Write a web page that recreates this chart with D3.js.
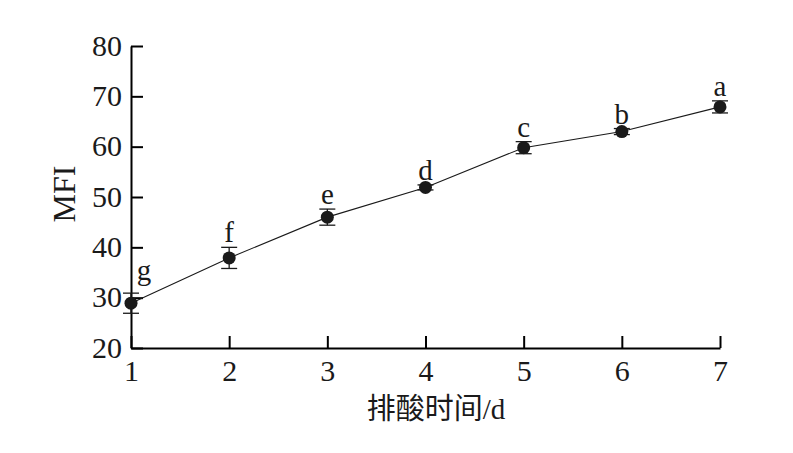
<!DOCTYPE html>
<html><head><meta charset="utf-8">
<script src="https://cdn.jsdelivr.net/npm/d3@7"></script>
<style>body{margin:0;background:#fff}</style>
</head><body><svg id="c" width="793" height="453"></svg>
<script>
const days = [1, 2, 3, 4, 5, 6, 7];
const mfi = [28.9, 37.9, 46.0, 51.9, 59.8, 63.0, 67.9];
const errs = [2.0, 2.1, 1.6, 0.5, 1.2, 0.6, 1.2];
const letters = ["g", "f", "e", "d", "c", "b", "a"];
const yTicks = [20, 30, 40, 50, 60, 70, 80];
const xTicks = [1, 2, 3, 4, 5, 6, 7];

const svg = d3.select("#c");
const x = d3.scaleLinear().domain([1, 7]).range([131, 720]);
const y = d3.scaleLinear().domain([20, 80]).range([348, 46]);
const serif = "'Liberation Serif','Times New Roman',serif";

const yAxis = svg.append("g").attr("transform", "translate(131,0)")
  .call(d3.axisLeft(y).tickValues(yTicks).tickFormat(d3.format("d")).tickSizeInner(-12).tickSizeOuter(0).tickPadding(9));
const xAxis = svg.append("g").attr("transform", "translate(0,348)")
  .call(d3.axisBottom(x).tickValues(xTicks).tickFormat(d3.format("d")).tickSizeInner(-12).tickSizeOuter(0).tickPadding(0));
[yAxis, xAxis].forEach(a => {
  a.select(".domain").attr("stroke", "#000").attr("stroke-width", 2);
  a.selectAll(".tick line").attr("stroke", "#000").attr("stroke-width", 2);
  a.selectAll(".tick text").attr("fill", "#1a1a1a").style("font-family", serif).style("font-size", "30px");
});
xAxis.selectAll(".tick text").attr("y", 33).attr("dy", null);
yAxis.selectAll(".tick text").attr("dy", "0.3em");

const pts = days.map((d, i) => ({d, v: mfi[i], e: errs[i], l: letters[i]}));

svg.append("path").datum(pts)
  .attr("fill", "none").attr("stroke", "#1a1a1a").attr("stroke-width", 1.1)
  .attr("d", d3.line().x(p => x(p.d)).y(p => y(p.v)));

const eb = svg.append("g").attr("stroke", "#1a1a1a").attr("stroke-width", 1.3);
pts.forEach(p => {
  eb.append("line").attr("x1", x(p.d)).attr("x2", x(p.d)).attr("y1", y(p.v - p.e)).attr("y2", y(p.v + p.e));
  [p.v - p.e, p.v + p.e].forEach(v => {
    eb.append("line").attr("x1", x(p.d) - 8).attr("x2", x(p.d) + 8).attr("y1", y(v)).attr("y2", y(v));
  });
});

svg.append("g").selectAll("circle").data(pts).join("circle")
  .attr("cx", p => x(p.d)).attr("cy", p => y(p.v)).attr("r", 6.5).attr("fill", "#1a1a1a");

svg.append("g").selectAll("text").data(pts).join("text")
  .attr("x", (p, i) => x(p.d) + (i === 0 ? 13 : 0))
  .attr("y", (p, i) => i === 0 ? y(p.v + p.e) - 13 : y(p.v + p.e) - 5)
  .attr("text-anchor", "middle")
  .style("font-family", serif).style("font-size", "29px").attr("fill", "#1a1a1a")
  .text(p => p.l);

svg.append("text").attr("transform", "translate(75,194) rotate(-90)")
  .attr("text-anchor", "middle").style("font-family", serif).style("font-size", "32px").attr("fill", "#1a1a1a")
  .text("MFI");

const xl = svg.append("text").attr("x", 436).attr("y", 419).attr("text-anchor", "middle")
  .attr("fill", "#1a1a1a").style("font-size", "29px");
xl.append("tspan").style("font-family", "'Noto Sans CJK SC'").text("排酸时间");
xl.append("tspan").style("font-family", serif).text("/d");
</script></body></html>
